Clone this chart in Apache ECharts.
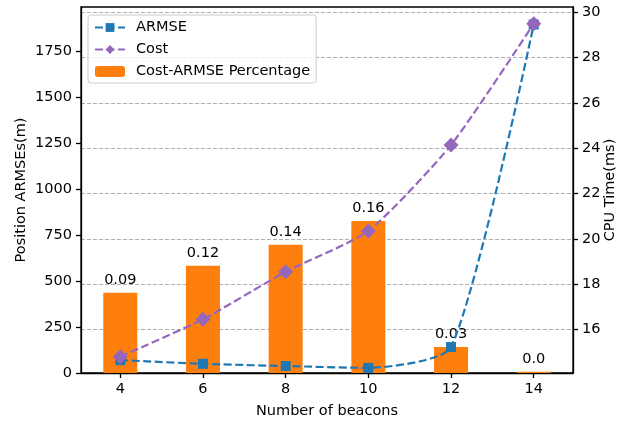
<!DOCTYPE html>
<html><head><meta charset="utf-8">
<script src="https://cdn.jsdelivr.net/npm/echarts@6/dist/echarts.min.js"></script>
<style>html,body{margin:0;padding:0;background:#fff}#c{width:619px;height:421px}</style>
</head><body><div id="c"></div>
<script>
const beacons = [4, 6, 8, 10, 12, 14];
const armse = [70, 50, 38, 28, 141, 1895];
const cost = [14.8, 16.45, 18.55, 20.35, 24.15, 29.5];
const barValues = [437, 583, 697, 827, 142, 7];
const percentLabels = ['0.09', '0.12', '0.14', '0.16', '0.03', '0.0'];
const leftTicks = [0, 250, 500, 750, 1000, 1250, 1500, 1750];
const rightTicks = [16, 18, 20, 22, 24, 26, 28, 30];

const font = 'DejaVu Sans';
const fs = 14.5;
const pair = (xs, ys) => xs.map((x, i) => [x, ys[i]]);
const chart = echarts.init(document.getElementById('c'));
chart.setOption({
  animation: false,
  textStyle: { fontFamily: font, color: '#000' },
  grid: { left: 81, right: 46, top: 7, bottom: 48, containLabel: false, outerBoundsMode: 'none',
    show: true, borderColor: '#000', borderWidth: 1.3, backgroundColor: 'transparent' },
  legend: {
    orient: 'vertical', left: 88, top: 15,
    itemWidth: 30, itemHeight: 11, itemGap: 7,
    padding: [5, 6, 4, 6],
    backgroundColor: 'rgba(255,255,255,0.8)', borderColor: '#ccc', borderWidth: 1, borderRadius: 3,
    textStyle: { fontFamily: font, fontSize: fs, color: '#000', padding: [0, 0, 0, 6] },
    data: ['ARMSE', 'Cost', 'Cost-ARMSE Percentage']
  },
  xAxis: {
    type: 'value', min: 3.05, max: 14.95,
    name: 'Number of beacons', nameLocation: 'middle', nameGap: 31, nameMoveOverlap: false,
    nameTextStyle: { fontFamily: font, fontSize: fs, color: '#000' },
    axisLine: { lineStyle: { color: '#000', width: 1.3 } },
    axisTick: { length: 5, lineStyle: { color: '#000', width: 1.3 }, customValues: beacons },
    axisLabel: { fontFamily: font, fontSize: fs, color: '#000', margin: 9, customValues: beacons },
    splitLine: { show: false }
  },
  yAxis: [{
    type: 'value', min: 0, max: 1990, position: 'left',
    name: 'Position ARMSEs(m)', nameLocation: 'middle', nameGap: 52, nameMoveOverlap: false,
    nameTextStyle: { fontFamily: font, fontSize: fs, color: '#000' },
    axisLine: { show: true, lineStyle: { color: '#000', width: 1.3 } },
    axisTick: { show: true, length: 5, lineStyle: { color: '#000', width: 1.3 }, customValues: leftTicks },
    axisLabel: { fontFamily: font, fontSize: fs, color: '#000', margin: 9, customValues: leftTicks, formatter: v => String(v) },
    splitLine: { show: false }
  }, {
    type: 'value', min: 14.08, max: 30.24, position: 'right',
    name: 'CPU Time(ms)', nameLocation: 'middle', nameGap: 30, nameMoveOverlap: false,
    nameTextStyle: { fontFamily: font, fontSize: fs, color: '#000' },
    axisLine: { show: true, lineStyle: { color: '#000', width: 1.3 } },
    axisTick: { show: true, length: 5, lineStyle: { color: '#000', width: 1.3 }, customValues: rightTicks },
    axisLabel: { fontFamily: font, fontSize: fs, color: '#000', margin: 9, customValues: rightTicks, formatter: v => String(v) },
    splitLine: { show: true, lineStyle: { color: '#b0b0b0', type: [4, 2], width: 1 } }
  }],
  series: [{
    name: 'Cost-ARMSE Percentage', type: 'bar', yAxisIndex: 0, barWidth: 34, z: 1,
    data: pair(beacons, barValues),
    itemStyle: { color: '#ff7f0e' },
    label: { show: true, position: 'top', distance: 5, fontFamily: font, fontSize: fs, color: '#000',
      formatter: p => percentLabels[p.dataIndex] }
  }, {
    name: 'ARMSE', type: 'line', yAxisIndex: 0, smooth: 0.2, z: 3,
    data: pair(beacons, armse),
    symbol: 'rect', symbolSize: 10,
    itemStyle: { color: '#1f77b4' },
    lineStyle: { color: '#1f77b4', width: 2.2, type: [8, 3.5] }
  }, {
    name: 'Cost', type: 'line', yAxisIndex: 1, smooth: 0.2, z: 4,
    data: pair(beacons, cost),
    symbol: 'diamond', symbolSize: 15,
    itemStyle: { color: '#9467bd' },
    lineStyle: { color: '#9467bd', width: 2.2, type: [8, 3.5] }
  }]
});
</script></body></html>
